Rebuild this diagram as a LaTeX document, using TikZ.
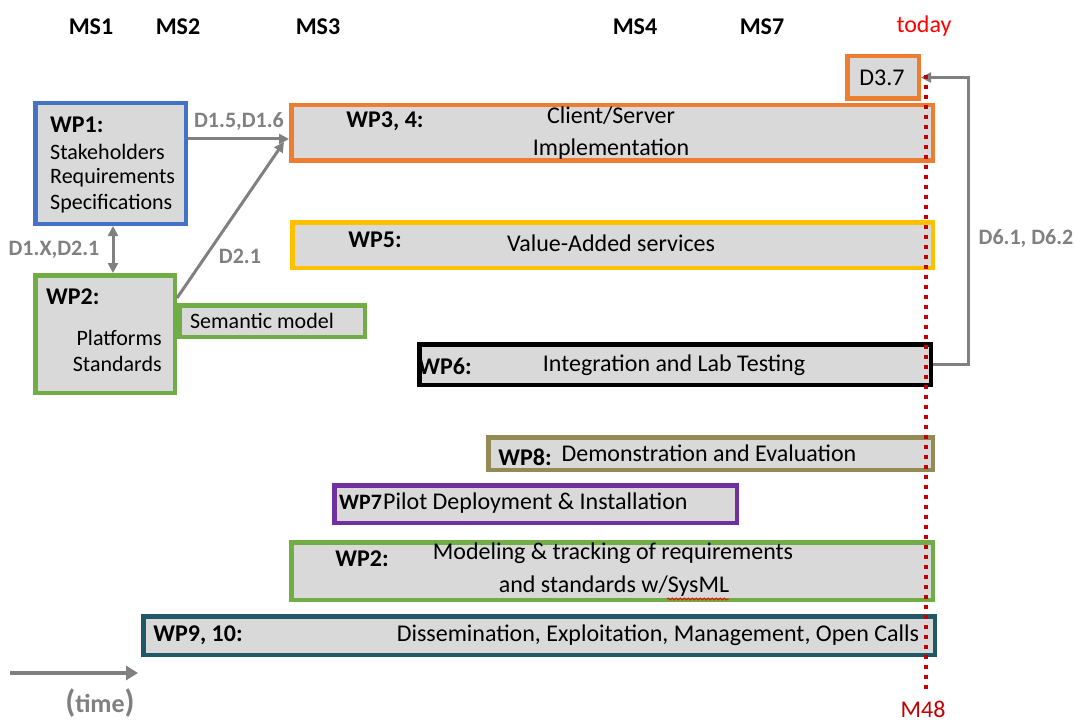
\documentclass[tikz,border=0pt]{standalone}
\usepackage{fontspec}
\setmainfont{Carlito}
\usetikzlibrary{arrows.meta,decorations.pathmorphing}
\definecolor{boxgrey}{HTML}{D9D9D9}
\definecolor{arrowgrey}{HTML}{808080}
\definecolor{wpblue}{HTML}{4472C4}
\definecolor{wporange}{HTML}{ED7D31}
\definecolor{wpyellow}{HTML}{FFC000}
\definecolor{wpgreen}{HTML}{70AD47}
\definecolor{wpolive}{HTML}{948A54}
\definecolor{wppurple}{HTML}{7030A0}
\definecolor{wpteal}{HTML}{215867}
\definecolor{todayred}{HTML}{FF0000}
\definecolor{darkred}{HTML}{C00000}
\tikzset{
  wpbox/.style={draw=#1, fill=boxgrey, line width=4.5pt, inner sep=0pt},
  txt/.style={font=\fontsize{24}{24}\selectfont, inner sep=0pt},
  smalltxt/.style={font=\fontsize{22}{22}\selectfont, inner sep=0pt},
  head/.style={font=\fontsize{24}{24}\selectfont\bfseries, inner sep=0pt},
  ms/.style={font=\fontsize{24}{24}\selectfont\bfseries, inner sep=0pt},
  deliv/.style={font=\fontsize{22}{22}\selectfont\bfseries, text=arrowgrey, inner sep=0pt},
  garrow/.style={draw=arrowgrey, line width=3pt, -{Triangle[length=10pt,width=10pt]}},
}
% box from its outer edges: name, colour, x1, y1, x2, y2
\def\wpbox#1#2#3#4#5#6{
\node[wpbox=#2, minimum width={#5pt-#3pt-4.5pt}, minimum height={#6pt-#4pt-4.5pt}]
  (#1) at ({(#3+#5)/2},{(#4+#6)/2}) {};
}

\begin{document}
\begin{tikzpicture}[x=1pt,y=-1pt]
	\useasboundingbox (0,0) rectangle (1075,722);
	% milestones
	\node[ms] (ms1) at (91,27) {MS1};
	\node[ms] (ms2) at (178,27) {MS2};
	\node[ms] (ms3) at (318,27) {MS3};
	\node[ms] (ms4) at (635,27) {MS4};
	\node[ms] (ms7) at (762,27) {MS7};
	\node[txt, text=todayred] (today) at (924,26) {today};
	% work packages
	\wpbox{wp1}{wpblue}{33}{101}{188}{226}
	\wpbox{wp2}{wpgreen}{33}{273}{177}{395}
	\wpbox{sem}{wpgreen}{177}{303}{367}{339}
	\wpbox{d37}{wporange}{845}{54}{921}{101}
	\wpbox{wp34}{wporange}{289}{103}{935}{163}
	\wpbox{wp5}{wpyellow}{290}{220}{935}{270}
	\wpbox{wp6}{black}{417}{342}{933}{387}
	\wpbox{wp8}{wpolive}{486}{435}{935}{472}
	\wpbox{wp7}{wppurple}{332}{483}{739}{525}
	\wpbox{wp2b}{wpgreen}{289}{540}{935}{602}
	\wpbox{wp910}{wpteal}{141}{614}{937}{657}
	\node[head, anchor=west] (wp1h) at (50,125) {WP1:};
	\node[smalltxt, anchor=west] (wp1a) at (50,152) {Stakeholders};
	\node[smalltxt, anchor=west] (wp1b) at (50,178) {Requirements};
	\node[smalltxt, anchor=west] (wp1c) at (50,204) {Specifications};
	\node[head, anchor=west] (wp2h) at (46,297) {WP2:};
	\node[smalltxt, anchor=east] (wp2a) at (162,338) {Platforms};
	\node[smalltxt, anchor=east] (wp2c) at (162,364) {Standards};
	\node[smalltxt] (semt) at (262,321) {Semantic model};
	\node[txt] (d37t) at (882,78) {D3.7};
	\node[head] (wp34h) at (385,121) {WP3, 4:};
	\node[txt] (wp34a) at (611,116) {Client/Server};
	\node[txt] (wp34b) at (611,149) {Implementation};
	\node[head] (wp5h) at (375,240) {WP5:};
	\node[txt] (wp5t) at (611,243) {Value-Added services};
	\node[head] (wp6h) at (445,366) {WP6:};
	\node[txt] (wp6t) at (674,365) {Integration and Lab Testing};
	\node[head] (wp8h) at (525,457) {WP8:};
	\node[txt] (wp8t) at (709,453) {Demonstration and Evaluation};
	\node[head, font=\fontsize{22}{22}\selectfont\bfseries, anchor=west] (wp7h) at (339,502) {WP7};
	\node[txt, anchor=west] (wp7t) at (383,503) {Pilot Deployment \& Installation};
	\node[head] (wp2bh) at (362,559) {WP2:};
	\node[txt] (wp2ba) at (613,553) {Modeling \& tracking of requirements};
	\node[txt] (wp2bb) at (614,586) {and standards w/SysML};
	\draw[todayred, line width=0.8pt, decorate, decoration={snake, amplitude=1pt, segment length=4pt}]
		(667,599) -- (729,599);
	\node[head] (wp910h) at (198,635) {WP9, 10:};
	\node[txt] (wp910t) at (658,635) {Dissemination, Exploitation, Management, Open Calls};
	% deliverables
	\draw[garrow] (wp1.east |- 0,139) -- (wp34.west |- 0,139);
	\node[deliv] (d156) at (239,121) {D1.5,D1.6};
	\draw[garrow] (wp2.east |- 0,298) -- (284,142);
	\node[deliv] (d21) at (240,256) {D2.1};
	\draw[draw=arrowgrey, line width=3pt, {Triangle[length=10pt,width=10pt]}-{Triangle[length=10pt,width=10pt]}]
		([xshift=2.5pt]wp1.south) -- ([xshift=2.5pt]wp1.south |- wp2.north);
	\node[deliv] (d1x) at (54,250) {D1.X,D2.1};
	\coordinate (turn) at (968,364.5);
	\draw[garrow] (wp6.east) -- (turn) |- (d37.east);
	\node[deliv] (d6) at (1026,238) {D6.1, D6.2};
	% today line
	\coordinate (ttop) at (926,75);
	\coordinate (tbot) at (926,693);
	\draw[darkred, line width=3.5pt, dash pattern=on 4pt off 6pt] (ttop) -- (tbot);
	\node[txt, text=darkred] (m48) at (923,709) {M48};
	% time axis
	\coordinate (t0) at (10,673);
	\coordinate (t1) at (138,673);
	\draw[draw=arrowgrey, line width=4pt, -{Triangle[length=12pt,width=14pt]}] (t0) -- (t1);
	\node[deliv, font=\fontsize{26}{26}\selectfont\bfseries] (time) at (100,703)
		{{\fontsize{32}{32}\selectfont(}time{\fontsize{32}{32}\selectfont)}};
\end{tikzpicture}
\end{document}
